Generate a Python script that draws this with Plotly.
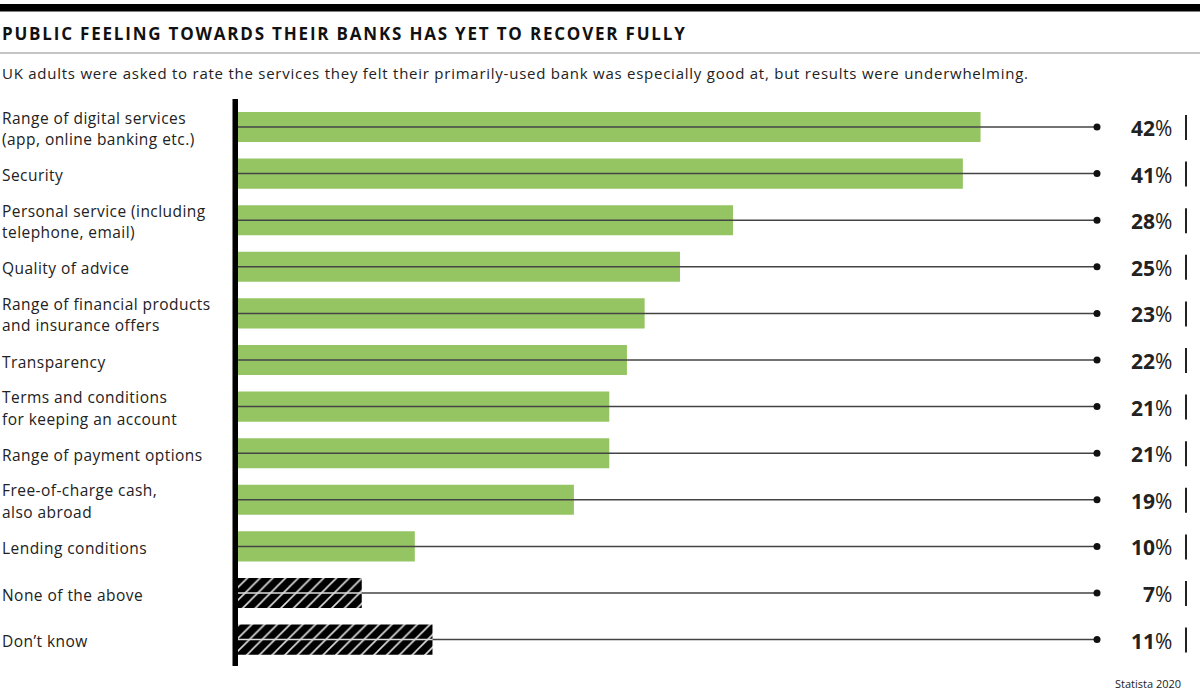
import plotly.graph_objects as go

categories = [
    "Range of digital services<br>(app, online banking etc.)",
    "Security",
    "Personal service (including<br>telephone, email)",
    "Quality of advice",
    "Range of financial products<br>and insurance offers",
    "Transparency",
    "Terms and conditions<br>for keeping an account",
    "Range of payment options",
    "Free-of-charge cash,<br>also abroad",
    "Lending conditions",
    "None of the above",
    "Don\u2019t know",
]
values = [42, 41, 28, 25, 23, 22, 21, 21, 19, 10, 7, 11]
hatched = [False] * 10 + [True, True]

title = "PUBLIC FEELING TOWARDS THEIR BANKS HAS YET TO RECOVER FULLY"
subtitle = ("UK adults were asked to rate the services they felt their primarily-used bank "
            "was especially good at, but results were underwhelming.")
source = "Statista 2020"

W, H = 1200, 694
FONT = "Open Sans"
TXT = "#222222"
GREEN = "#95c563"

x0_px = 238
px_per = 17.68
x_max = (W - x0_px) / px_per
row_top, row_step = 127, 46.6
n = len(categories)
y_top_px = row_top - row_step / 2
y_bot_px = row_top + row_step * (n - 1) + row_step / 2
dot_px = 1097
dot_x = (dot_px - x0_px) / px_per


def spaced(s, px):
    return f'<span style="letter-spacing:{px}px">{s}</span>'


fig = go.Figure()

idx = list(range(n))
g_idx = [i for i in idx if not hatched[i]]
h_idx = [i for i in idx if hatched[i]]

fig.add_trace(go.Bar(
    y=g_idx, x=[values[i] for i in g_idx], orientation="h",
    marker=dict(color=GREEN, line=dict(width=0)), width=0.645, hoverinfo="skip"))
fig.add_trace(go.Bar(
    y=h_idx, x=[values[i] for i in h_idx], orientation="h",
    marker=dict(color="black", line=dict(width=0),
                pattern=dict(shape="/", fgcolor="#dddddd", bgcolor="black",
                             size=9, solidity=0.18, fillmode="replace")),
    width=0.645, hoverinfo="skip"))

# connector lines and dots
for i in idx:
    start = values[i] if hatched[i] else 0
    fig.add_trace(go.Scatter(
        x=[start, dot_x], y=[i, i], mode="lines",
        line=dict(color="#444444", width=1.5), hoverinfo="skip"))
    if hatched[i]:
        fig.add_trace(go.Scatter(
            x=[0, values[i]], y=[i, i], mode="lines",
            line=dict(color="#dddddd", width=1.5), hoverinfo="skip"))
    fig.add_trace(go.Scatter(
        x=[dot_x], y=[i], mode="markers",
        marker=dict(color="#111111", size=7), hoverinfo="skip"))

annotations = []
shapes = []
for i, (c, v) in enumerate(zip(categories, values)):
    lines = c.split("<br>")
    shifts = [-1.5] if len(lines) == 1 else [9.5, -12]
    for line, sh in zip(lines, shifts):
        annotations.append(dict(
            x=0, xref="paper", y=i, yref="y", text=spaced(line, 0.45), showarrow=False,
            xanchor="left", yanchor="middle", align="left", yshift=sh,
            font=dict(family=FONT, size=15.5, color=TXT)))
    annotations.append(dict(
        x=1174 / W, xref="paper", y=i, yref="y", yshift=-1,
        text=f"<b>{v}</b>%", showarrow=False, xanchor="right", yanchor="middle",
        font=dict(family=FONT, size=21, color=TXT)))
    yc = row_top + row_step * i
    shapes.append(dict(type="line", xref="paper", yref="paper",
                       x0=1186 / W, x1=1186 / W,
                       y0=1 - (yc - 12) / H, y1=1 - (yc + 13) / H,
                       line=dict(color="#222222", width=2)))

# header shapes
shapes += [
    dict(type="rect", xref="paper", yref="paper", x0=0, x1=1, y0=1 - 4 / H, y1=1 - 11.5 / H,
         fillcolor="black", line=dict(width=0)),
    dict(type="line", xref="paper", yref="paper", x0=0, x1=1, y0=1 - 53 / H, y1=1 - 53 / H,
         line=dict(color="#b0b0b0", width=1.5)),
    dict(type="rect", xref="paper", yref="paper", x0=232.5 / W, x1=238 / W,
         y0=1 - 99 / H, y1=1 - 666 / H, fillcolor="black", line=dict(width=0)),
]

annotations += [
    dict(x=0, xref="paper", y=1 - 33 / H, yref="paper", text=f"<b>{spaced(title, 1.8)}</b>",
         showarrow=False, xanchor="left", yanchor="middle",
         font=dict(family=FONT, size=17, color="#111111")),
    dict(x=0, xref="paper", y=1 - 73 / H, yref="paper", text=spaced(subtitle, 0.75),
         showarrow=False, xanchor="left", yanchor="middle",
         font=dict(family=FONT, size=15, color=TXT)),
    dict(x=1183 / W, xref="paper", y=1 - 683 / H, yref="paper", text=source,
         showarrow=False, xanchor="right", yanchor="middle",
         font=dict(family=FONT, size=11, color=TXT)),
]

fig.update_layout(
    width=W, height=H, margin=dict(l=0, r=0, t=0, b=0),
    paper_bgcolor="white", plot_bgcolor="white",
    showlegend=False, barmode="overlay",
    xaxis=dict(domain=[x0_px / W, 1], range=[0, x_max], visible=False, fixedrange=True),
    yaxis=dict(domain=[1 - y_bot_px / H, 1 - y_top_px / H], range=[n - 0.5, -0.5],
               visible=False, fixedrange=True),
    shapes=shapes, annotations=annotations,
)

fig.write_html("out.html")
